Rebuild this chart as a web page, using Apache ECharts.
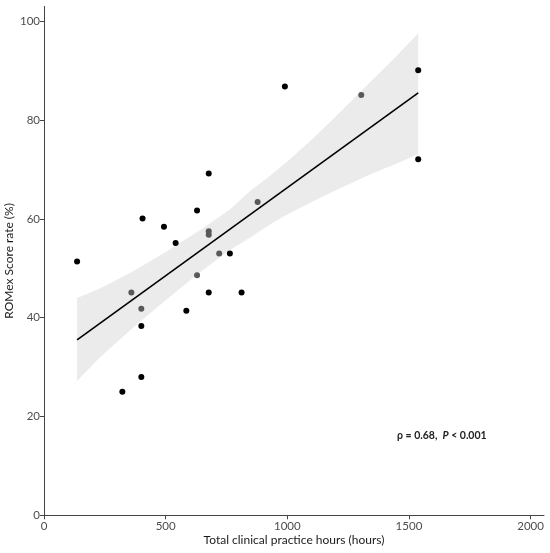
<!DOCTYPE html>
<html lang="en">
<head>
    <meta charset="UTF-8">
    <title>ROMex score vs clinical practice hours</title>
    <style>
        html, body { margin: 0; padding: 0; background: #fff; }
        #scatterChart { width: 550px; height: 553px; }
    </style>
</head>
<body>
<div id="scatterChart"></div>
<script src="https://cdn.jsdelivr.net/npm/echarts@6/dist/echarts.min.js"></script>
<script type="text/javascript">
    // observed points (black = single, grey = overlapping)
    var hoursBlack = [136, 405, 493, 541, 629, 677, 764, 990, 1538, 1538, 400, 585, 677, 812, 400, 322];
    var scoreBlack = [51.4, 60.1, 58.4, 55.1, 61.7, 69.2, 53.0, 86.8, 90.1, 72.1, 38.3, 41.4, 45.1, 45.1, 28.0, 25.0];
    var hoursGrey = [677, 677, 720, 878, 629, 1304, 359, 400];
    var scoreGrey = [57.5, 56.8, 53.0, 63.4, 48.6, 85.1, 45.1, 41.8];

    // fitted line and its 95% band
    var fitHours = [136, 1538];
    var fitScore = [35.5, 85.5];
    var bandHours = [136, 230, 367, 504, 641, 764, 846, 930, 1000, 1100, 1200, 1339, 1440, 1538];
    var bandLower = [27.2, 32.0, 38.0, 43.7, 49.2, 53.7, 56.2, 58.9, 60.9, 63.4, 65.8, 69.0, 71.0, 73.1];
    var bandUpper = [44.0, 45.9, 49.4, 53.4, 57.7, 61.9, 65.6, 68.8, 71.6, 76.0, 80.8, 87.6, 92.5, 97.6];

    var xTicks = [0, 500, 1000, 1500, 2000];
    var yTicks = [0, 20, 40, 60, 80, 100];

    function pairs(xs, ys) {
        var out = [];
        for (var i = 0; i < xs.length; i++) out.push([xs[i], ys[i]]);
        return out;
    }

    var font = 'Lato, "Open Sans", sans-serif';
    var axisGrey = '#4d4d4d';

    var myChart = echarts.init(document.getElementById('scatterChart'));
    var option = {
        animation: false,
        textStyle: { fontFamily: font },
        grid: { left: 44, right: 6, top: 6.5, bottom: 37.7, containLabel: false, outerBoundsMode: 'none' },
        xAxis: {
            type: 'value',
            min: 0,
            max: 2055,
            name: 'Total clinical practice hours (hours)',
            nameLocation: 'middle',
            nameGap: 19,
            nameMoveOverlap: false,
            nameTextStyle: { color: '#1a1a1a', fontSize: 12, fontFamily: font },
            axisLine: { lineStyle: { color: '#444', width: 1 } },
            axisTick: { show: true, length: 4, lineStyle: { color: '#444' }, customValues: xTicks },
            axisLabel: {
                color: axisGrey, fontSize: 11.5, margin: 5, customValues: xTicks,
                formatter: function (v) { return String(v); }
            },
            splitLine: { show: false }
        },
        yAxis: {
            type: 'value',
            min: 0,
            max: 103,
            name: 'ROMex Score rate (%)',
            nameLocation: 'middle',
            nameGap: 29,
            nameMoveOverlap: false,
            nameTextStyle: { color: '#1a1a1a', fontSize: 12, fontFamily: font },
            axisLine: { show: true, lineStyle: { color: '#444', width: 1 } },
            axisTick: { show: true, length: 4, lineStyle: { color: '#444' }, customValues: yTicks },
            axisLabel: {
                color: axisGrey, fontSize: 11.5, margin: 4, customValues: yTicks,
                formatter: function (v) { return String(v); }
            },
            splitLine: { show: false }
        },
        series: [
            {
                name: 'band',
                type: 'custom',
                silent: true,
                z: 1,
                data: [[0, 0]],
                renderItem: function (params, api) {
                    var pts = [];
                    for (var i = 0; i < bandHours.length; i++) {
                        pts.push(api.coord([bandHours[i], bandUpper[i]]));
                    }
                    for (var j = bandHours.length - 1; j >= 0; j--) {
                        pts.push(api.coord([bandHours[j], bandLower[j]]));
                    }
                    return {
                        type: 'polygon',
                        shape: { points: pts },
                        style: { fill: '#ebebeb', stroke: null }
                    };
                }
            },
            {
                name: 'fit',
                type: 'line',
                z: 2,
                data: pairs(fitHours, fitScore),
                symbol: 'none',
                lineStyle: { color: '#000', width: 1.6 }
            },
            {
                name: 'points',
                type: 'scatter',
                z: 3,
                symbolSize: 6,
                itemStyle: { color: '#000', opacity: 1 },
                data: pairs(hoursBlack, scoreBlack)
            },
            {
                name: 'points overlap',
                type: 'scatter',
                z: 3,
                symbolSize: 6,
                itemStyle: { color: '#595959', opacity: 1 },
                data: pairs(hoursGrey, scoreGrey)
            }
        ],
        graphic: [{
            type: 'text',
            left: 397,
            top: 430,
            style: {
                text: '{n|ρ = 0.68,  }{i|P}{n| < 0.001}',
                rich: {
                    n: { fontFamily: font, fontSize: 10.5, fontWeight: 'bold', fill: '#222' },
                    i: { fontFamily: font, fontSize: 10.5, fontWeight: 'bold', fontStyle: 'italic', fill: '#222' }
                }
            }
        }]
    };
    myChart.setOption(option);
</script>
</body>
</html>
